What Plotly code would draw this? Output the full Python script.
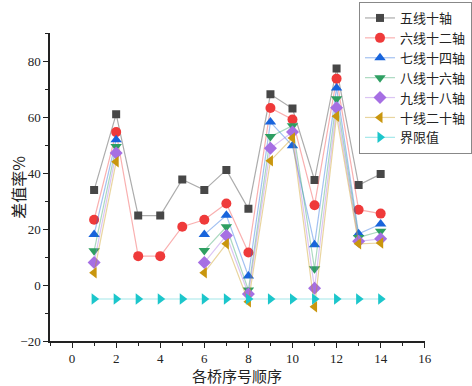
import plotly.graph_objects as go

x = list(range(1, 15))
names = ["五线十轴", "六线十二轴", "七线十四轴", "八线十六轴", "九线十八轴", "十线二十轴", "界限值"]
s5 = [33.9, 61.0, 24.8, 24.8, 37.7, 33.9, 41.1, 27.2, 68.1, 63.0, 37.5, 77.3, 35.7, 39.6]
s6 = [23.3, 54.6, 10.3, 10.3, 20.8, 23.3, 29.1, 11.6, 63.2, 59.1, 28.5, 73.7, 26.9, 25.5]
s7 = [18.0, 51.9, None, None, None, 18.0, 24.9, 3.2, 58.2, 49.7, 14.4, 70.4, 18.3, 21.8]
s8 = [12.2, 49.5, None, None, None, 12.3, 20.8, -1.8, 53.0, 56.9, 5.8, 66.5, 17.0, 19.2]
s9 = [8.0, 47.1, None, None, None, 8.0, 17.7, -3.2, 48.8, 54.6, -1.2, 63.3, 15.6, 16.5]
s10 = [4.4, 44.0, None, None, None, 4.4, 14.7, -6.0, 44.4, 52.5, -7.8, 60.3, 14.7, 15.0]
limit = [-5] * 14
series = [s5, s6, s7, s8, s9, s10, limit]

colors = ["#474747", "#EF3A3A", "#1864DC", "#2E9F62", "#A66FE3", "#C9960E", "#1CC6CB"]
lines = ["rgba(71,71,71,0.45)", "rgba(239,58,58,0.4)", "rgba(24,100,220,0.4)", "rgba(46,159,98,0.4)",
         "rgba(166,111,227,0.4)", "rgba(201,150,14,0.4)", "rgba(28,198,203,0.4)"]
symbols = ["square", "circle", "triangle-up", "triangle-down", "diamond", "triangle-left", "triangle-right"]
sizes = [8, 10, 10, 10, 10, 10, 10]

fig = go.Figure()
for n, s, c, lc, sym, sz in zip(names, series, colors, lines, symbols, sizes):
    fig.add_trace(go.Scatter(x=x, y=s, name=n, mode="lines+markers",
                             line=dict(color=lc, width=1.2),
                             marker=dict(symbol=sym, color=c, size=sz, line=dict(width=0)),
                             connectgaps=False))

W, H = 472, 386
L, R, T, B = 51, 433, 33, 341
tickfont = dict(family="Liberation Serif, Times New Roman, serif", size=13, color="#222")
titlefont = dict(family="Noto Sans CJK SC", size=15, color="#222")
fig.update_layout(
    width=W, height=H,
    margin=dict(l=0, r=0, t=0, b=0),
    plot_bgcolor="white", paper_bgcolor="white",
    font=dict(family="Noto Sans CJK SC", size=13, color="#222"),
    legend=dict(x=366 / W, y=1 - 2 / H, xanchor="left", yanchor="top",
                bgcolor="white", bordercolor="#888", borderwidth=1,
                font=dict(family="Noto Sans CJK SC", size=13, color="#222"),
                tracegroupgap=0, itemwidth=30),
    xaxis=dict(domain=[L / W, R / W], range=[-1, 16], tickmode="array", tickvals=list(range(0, 17, 2)),
               ticks="outside", ticklen=5, tickwidth=1.2, tickcolor="#222", automargin=False,
               minor=dict(tickvals=list(range(-1, 17, 2)), ticks="outside", ticklen=3, tickcolor="#222"),
               showline=True, linecolor="#222", linewidth=1.5, showgrid=False, zeroline=False,
               tickfont=tickfont),
    yaxis=dict(domain=[1 - B / H, 1 - T / H], range=[-20, 90], tickmode="array", tickvals=list(range(-20, 81, 20)),
               ticks="outside", ticklen=5, tickwidth=1.2, tickcolor="#222", automargin=False,
               minor=dict(tickvals=list(range(-10, 91, 20)), ticks="outside", ticklen=3, tickcolor="#222"),
               showline=True, linecolor="#222", linewidth=1.5, showgrid=False, zeroline=False,
               tickfont=tickfont),
    annotations=[
        dict(text="各桥序号顺序", xref="paper", yref="paper", x=(L + R) / 2 / W, y=1 - 375.5 / H,
             xanchor="center", yanchor="middle", showarrow=False, font=titlefont),
        dict(text="差值率%", xref="paper", yref="paper", x=18 / W, y=1 - 187 / H, textangle=-90,
             xanchor="center", yanchor="middle", showarrow=False, font=dict(family="Noto Sans CJK SC", size=16, color="#222")),
    ],
)
fig.write_html("out.html", config={"displayModeBar": False},
               post_script="document.body.style.margin='0';document.body.style.overflow='hidden';")
